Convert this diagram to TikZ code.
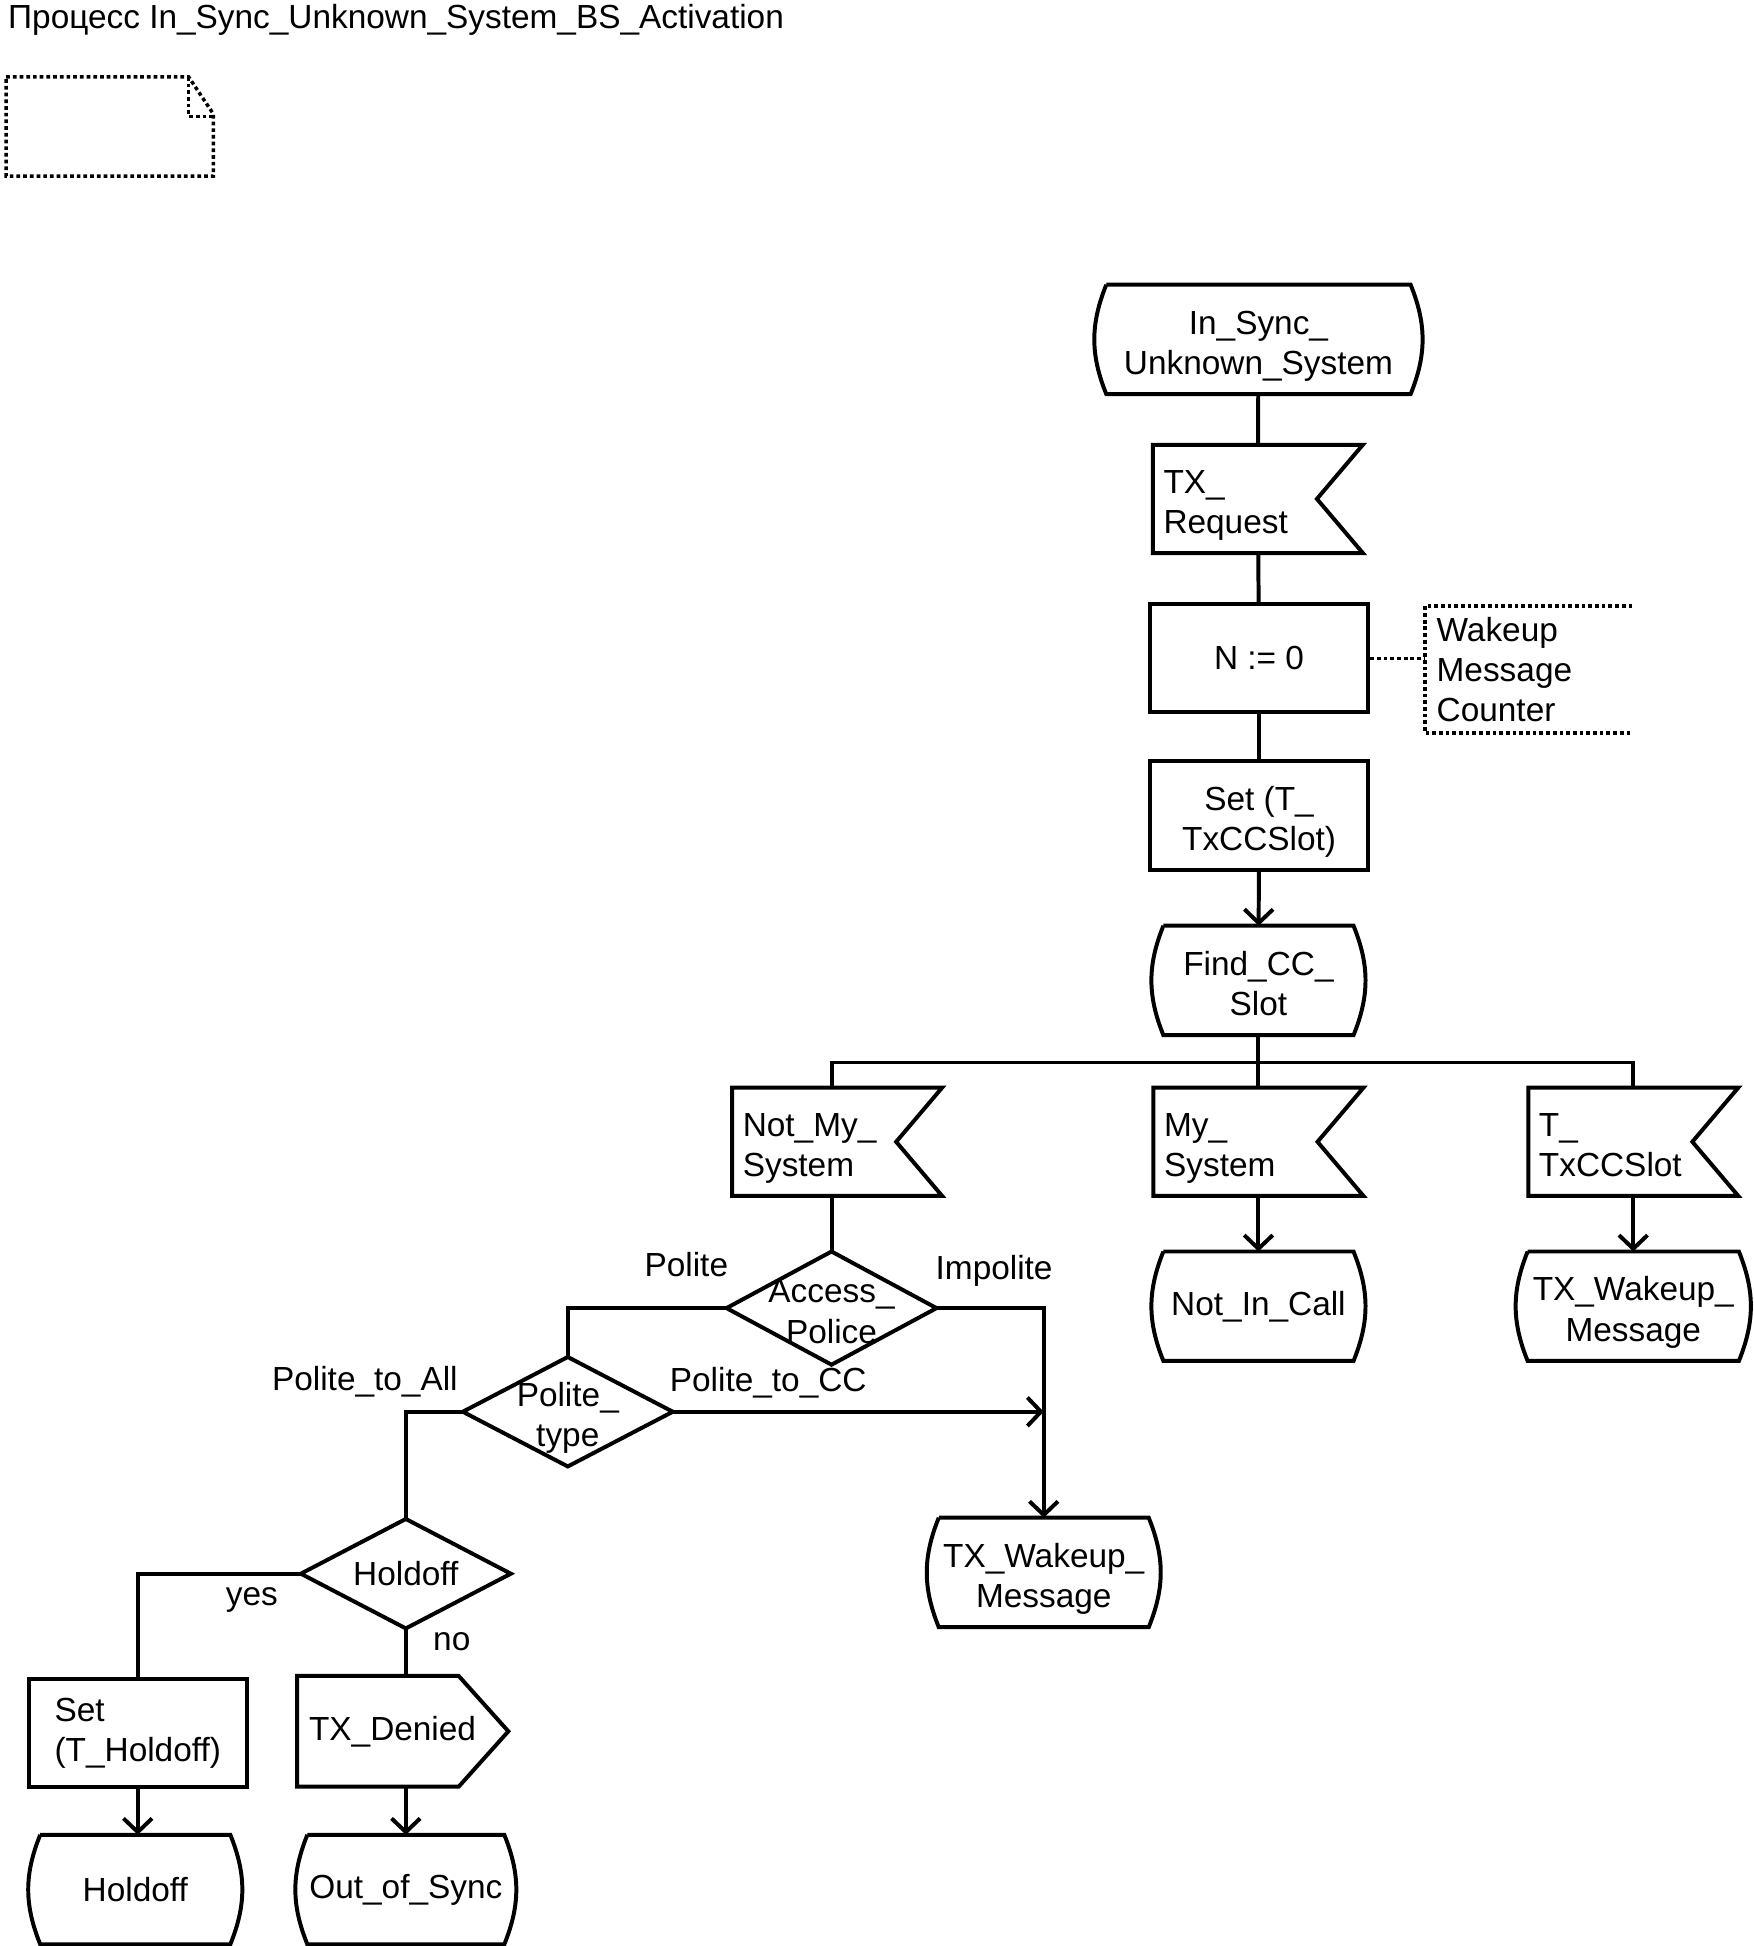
\documentclass[tikz,border=0pt]{standalone}
\usepackage{fontspec}
\setmainfont{Liberation Sans}
\usetikzlibrary{arrows.meta}

\newcommand\sdlfont{\fontsize{26.9}{32.5}\selectfont}
% two lines with fixed top and bottom room
\newcommand\twolines[2]{\rule{0pt}{30pt}#1\\#2\rule[-6pt]{0pt}{6pt}}

\tikzset{
  taskbox/.style={draw, inner sep=0pt, minimum width=176pt, minimum height=87pt, align=center},
  statebox/.style={inner sep=0pt, minimum width=#1, minimum height=85pt, align=center,
    append after command={\pgfextra{\draw (\tikzlastnode.north west) -- (\tikzlastnode.north east)
      to[bend left=22] (\tikzlastnode.south east) -- (\tikzlastnode.south west)
      to[bend left=22] (\tikzlastnode.north west);}}},
  inputsig/.style={inner sep=0pt, inner xsep=7pt, text width=152pt, minimum height=84pt, align=left,
    append after command={\pgfextra{\draw (\tikzlastnode.north west) -- (\tikzlastnode.north east)
      -- ([xshift=-37pt]\tikzlastnode.east) -- (\tikzlastnode.south east)
      -- (\tikzlastnode.south west) -- cycle;}}},
  outputsig/.style={inner sep=0pt, inner xsep=8pt, text width=151pt, minimum height=86pt, align=left,
    append after command={\pgfextra{\draw (\tikzlastnode.north west) -- ([xshift=-40pt]\tikzlastnode.north east)
      -- (\tikzlastnode.east) -- ([xshift=-40pt]\tikzlastnode.south east)
      -- (\tikzlastnode.south west) -- cycle;}}},
  decision/.style={inner sep=0pt, minimum width=166pt, minimum height=#1, align=center,
    append after command={\pgfextra{\draw (\tikzlastnode.north) -- (\tikzlastnode.east)
      -- (\tikzlastnode.south) -- (\tikzlastnode.west) -- cycle;}}},
  branch/.style={inner sep=0pt},
  commentline/.style={line width=2.8pt, dash pattern=on 3pt off 2.4pt}
}

\begin{document}
\begin{tikzpicture}[x=1pt, y=-1pt, line width=3.2pt, font=\sdlfont,
    >={Straight Barb[length=11pt,width=23pt]}]
    \useasboundingbox (0,0) rectangle (1413,1568);

    % Header
    \node[anchor=west, inner sep=0pt] (title) at (5,16) {Процесс In\_Sync\_Unknown\_System\_BS\_Activation};
    \draw[commentline] (5,62) -- (152,62) -- (172,92) -- (172,142) -- (5,142) -- cycle;
    \draw[commentline] (152,62) -- (152,94) -- (172,94);

    % Main branch
    \node[statebox=242pt] (start) at (1014,273.5) {\twolines{In\_Sync\_}{Unknown\_System}};
    \node[inputsig] (txreq) at (1013.5,402) {\twolines{TX\_}{Request}};
    \node[taskbox] (nzero) at (1014.5,530.5) {N := 0};
    \node[taskbox, minimum height=88pt] (settx) at (1014.5,657) {\twolines{Set (T\_}{TxCCSlot)}};
    \node[statebox=150pt] (findcc) at (1014,790) {\twolines{Find\_CC\_}{Slot}};

    \draw (start) -- (txreq);
    \draw (txreq) -- (nzero);
    \draw (nzero) -- (settx);
    \draw[->] (settx) -- (findcc);

    % Comment
    \node[anchor=west, inner sep=0pt, inner xsep=8pt, text width=148pt, minimum height=99pt,
        align=left] (note) at (1148,539.5) {Wakeup\\Message\\Counter};
    \draw[commentline] (note.north east) -- (note.north west) -- (note.south west) -- (note.south east);
    \draw[commentline] (nzero.east) -- (nzero.east -| note.west);

    % Inputs
    \node[inputsig] (notmy) at (674.5,920) {\twolines{Not\_My\_}{System}};
    \node[inputsig] (mysys) at (1014,920) {\twolines{My\_}{System}};
    \node[inputsig] (ttx) at (1316,920) {\twolines{T\_}{TxCCSlot}};

    \node[statebox=150pt] (notin) at (1014,1052.5) {Not\_In\_Call};
    \node[statebox=167pt] (wake1) at (1316,1052.5) {\twolines{TX\_Wakeup\_}{Message}};

    % Decisions
    \node[decision=88pt] (access) at (670,1054) {\twolines{Access\_}{Police}};
    \node[decision=85pt] (polite) at (457.5,1137.5) {\twolines{Polite\_}{type}};
    \node[decision=85pt] (hold) at (327,1268) {Holdoff};
    \node[statebox=166pt] (wake2) at (841,1267) {\twolines{TX\_Wakeup\_}{Message}};
    \coordinate (merge) at (polite.east -| wake2.north);

    \draw (findcc.south) -- ++(0,22) coordinate (fork);
    \draw (fork) -| (access.north |- notmy.north);
    \draw (fork) -| (ttx.north);
    \draw (fork) -- (mysys.north);
    \draw[->] (mysys) -- (notin);
    \draw[->] (ttx) -- (wake1);

    \draw (access.north |- notmy.south) -- (access.north);
    \draw (access.west) -| (polite.north);
    \draw[->] (access.east) -| (wake2.north);
    \draw[->] (polite.east) -- (merge);
    \draw (polite.west) -| (hold.north);

    \node[branch] (lpol) at (553,1019) {Polite};
    \node[branch] (limp) at (801,1024) {Impolite};
    \node[branch] (lall) at (294,1113) {Polite\_to\_All};
    \node[branch] (lcc) at (619,1114) {Polite\_to\_CC};
    \node[branch] (lyes) at (203,1289) {yes};
    \node[branch] (lno) at (364,1323) {no};

    % Holdoff outcome
    \node[taskbox, align=left] (sethold) at (111,1396.5) {Set\\(T\_Holdoff)};
    \node[outputsig] (denied) at (324.5,1395) {TX\_Denied};
    \node[statebox=150pt] (holds) at (109,1522.5) {Holdoff};
    \node[statebox=152pt] (outsync) at (327,1522.5) {Out\_of\_Sync};

    \draw (hold.west) -| (sethold.north);
    \draw (hold.south) -- (hold.south |- denied.north);
    \draw[->] (sethold) -- (sethold |- holds.north);
    \draw[->] (hold.south |- denied.south) -- (outsync);
\end{tikzpicture}
\end{document}
